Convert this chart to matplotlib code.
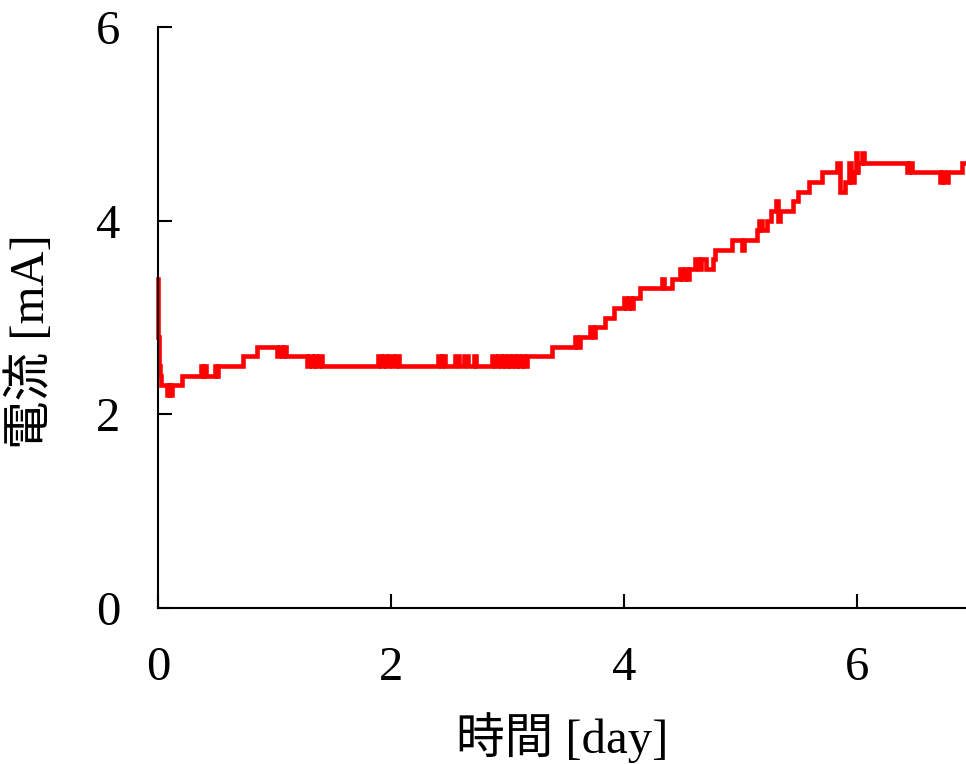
import matplotlib
matplotlib.use("Agg")
import matplotlib.pyplot as plt

plt.rcParams['font.family'] = ['Liberation Serif', 'Noto Sans CJK JP', 'DejaVu Sans']

# time [day] at which the reading changes, and the current [mA] from then on
time_day = [
    0.000, 0.003, 0.006, 0.015, 0.030, 0.045,
    0.075, 0.095, 0.105, 0.120,
    0.210,
    0.370, 0.385, 0.395, 0.410,
    0.490, 0.505, 0.515, 0.530,
    0.730, 0.850,
    1.020, 1.040, 1.060, 1.080, 1.100,
    1.280, 1.300, 1.320, 1.340, 1.360, 1.380, 1.410,
    1.890, 1.910, 1.930, 1.960, 1.980, 2.020, 2.040, 2.070,
    2.400, 2.430, 2.440, 2.460,
    2.550, 2.580, 2.630, 2.660, 2.710, 2.730, 2.870, 2.890,
    2.920, 2.940, 2.960, 2.980, 3.000, 3.020, 3.040, 3.060,
    3.080, 3.100, 3.120, 3.140, 3.170,
    3.380,
    3.580, 3.600, 3.620,
    3.710, 3.730, 3.750,
    3.840, 3.910,
    4.000, 4.020, 4.040, 4.060, 4.080,
    4.140, 4.330, 4.345, 4.410,
    4.480, 4.500, 4.520, 4.540, 4.560,
    4.610, 4.640, 4.660, 4.700, 4.760, 4.780,
    4.930, 5.010, 5.030,
    5.140, 5.160, 5.180, 5.230, 5.260, 5.300, 5.320, 5.340,
    5.450, 5.490, 5.590, 5.700,
    5.830, 5.850, 5.900, 5.935, 5.950, 5.970, 5.990, 6.000, 6.010,
    6.040, 6.060, 6.080,
    6.430, 6.450, 6.470, 6.480,
    6.710, 6.730, 6.750, 6.780, 6.810,
    6.900, 6.940,
]
current_mA = [
    3.4, 2.8, 2.5, 2.4, 2.3, 2.3,
    2.2, 2.3, 2.2, 2.3,
    2.4,
    2.5, 2.4, 2.5, 2.4,
    2.5, 2.4, 2.5, 2.5,
    2.6, 2.7,
    2.6, 2.7, 2.6, 2.7, 2.6,
    2.5, 2.6, 2.5, 2.6, 2.5, 2.6, 2.5,
    2.6, 2.5, 2.6, 2.5, 2.6, 2.5, 2.6, 2.5,
    2.6, 2.5, 2.6, 2.5,
    2.6, 2.5, 2.6, 2.5, 2.6, 2.5, 2.6, 2.5,
    2.6, 2.5, 2.6, 2.5, 2.6, 2.5, 2.6, 2.5,
    2.6, 2.5, 2.6, 2.5, 2.6,
    2.7,
    2.8, 2.7, 2.8,
    2.9, 2.8, 2.9,
    3.0, 3.1,
    3.2, 3.1, 3.2, 3.1, 3.2,
    3.3, 3.4, 3.3, 3.4,
    3.5, 3.4, 3.5, 3.4, 3.5,
    3.6, 3.5, 3.6, 3.5, 3.6, 3.7,
    3.8, 3.7, 3.8,
    3.9, 4.0, 3.9, 4.0, 4.1, 4.2, 4.0, 4.1,
    4.2, 4.3, 4.4, 4.5,
    4.6, 4.3, 4.4, 4.6, 4.4, 4.5, 4.7, 4.5, 4.6,
    4.7, 4.6, 4.6,
    4.5, 4.6, 4.5, 4.5,
    4.4, 4.5, 4.4, 4.5, 4.5,
    4.6, 4.6,
]

x_ticks = [0, 2, 4, 6]
y_ticks = [0, 2, 4, 6]
x_label = "時間 [day]"
y_label = "電流 [mA]"

fig = plt.figure(figsize=(9.66, 7.64), dpi=100)
ax = fig.add_axes([158 / 966, 1 - 608 / 764, 1 - 158 / 966, (608 - 27) / 764])

ax.plot(time_day, current_mA, color='#ff0000', lw=3.3, drawstyle='steps-post',
        solid_joinstyle='miter', clip_on=False)

ax.set_xlim(0, 6.935)
ax.set_ylim(0, 6)
ax.set_xticks(x_ticks)
ax.set_yticks(y_ticks)
ax.set_xticklabels([str(v) for v in x_ticks])
ax.set_yticklabels([str(v) for v in y_ticks])

for s in ['top', 'right']:
    ax.spines[s].set_visible(False)
for s in ['left', 'bottom']:
    ax.spines[s].set_linewidth(1.5)
    ax.spines[s].set_color('black')

ax.tick_params(direction='in', length=10, width=1.5, labelsize=35, pad=27, colors='black')
ax.set_xlabel(x_label, fontsize=35, labelpad=16)
ax.set_ylabel(y_label, fontsize=35, labelpad=30)
ax.yaxis.label.set_y(0.458)

fig.savefig('out.png', dpi=100, facecolor='white')
